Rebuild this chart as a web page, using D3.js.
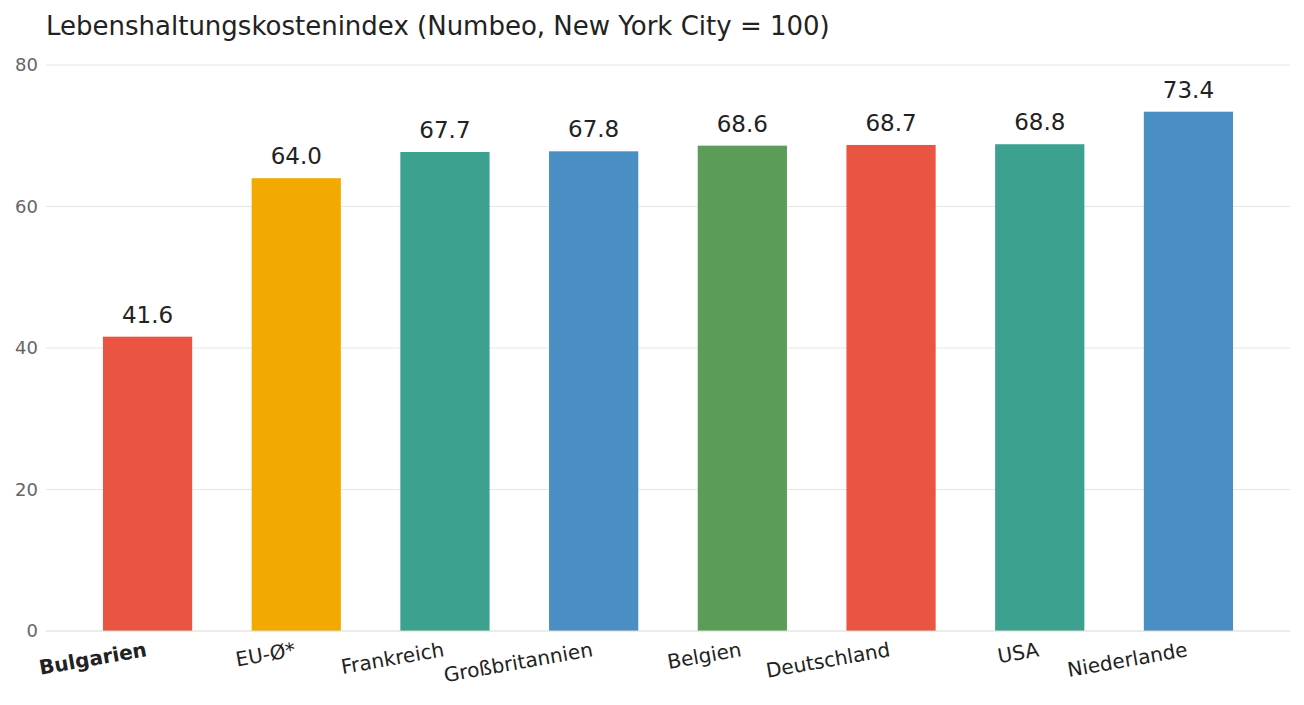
<!DOCTYPE html>
<html><head><meta charset="utf-8">
<script src="https://cdn.jsdelivr.net/npm/d3@7"></script>
<style>body{margin:0;background:#fff;font-family:"DejaVu Sans",sans-serif}</style>
</head><body><svg id="chart" width="1304" height="705"></svg>
<script>
const countries = ['Bulgarien','EU-Ø*','Frankreich','Großbritannien','Belgien','Deutschland','USA','Niederlande']
const values = [41.6, 64.0, 67.7, 67.8, 68.6, 68.7, 68.8, 73.4]
const barColors = ['#e95541','#f2aa00','#3ca18e','#4a8fc3','#5b9d58','#e95541','#3ca18e','#4a8fc3']
const yTicks = [0, 20, 40, 60, 80]

const svg = d3.select('#chart')
const x = d3.scaleBand().domain(countries).range([46, 1290]).paddingInner(0.4).paddingOuter(0.383)
const y = d3.scaleLinear().domain([0, 80]).range([631, 65])

svg.append('text').attr('x', 46).attr('y', 35).attr('font-size', 26).attr('fill', '#222')
    .text('Lebenshaltungskostenindex (Numbeo, New York City = 100)')

const grid = svg.append('g')
grid.selectAll('line').data(yTicks.slice(1)).enter().append('line')
    .attr('x1', 46).attr('x2', 1290).attr('y1', d => y(d)).attr('y2', d => y(d))
    .attr('stroke', '#e6e6e6')
grid.selectAll('text').data(yTicks).enter().append('text')
    .attr('x', 38).attr('y', d => y(d) + 6).attr('text-anchor', 'end')
    .attr('font-size', 18).attr('fill', '#666').text(d => d)

svg.selectAll('.bar').data(values).enter().append('rect')
    .attr('x', (d, i) => x(countries[i])).attr('width', x.bandwidth())
    .attr('y', d => y(d)).attr('height', d => y(0) - y(d))
    .attr('fill', (d, i) => barColors[i])

svg.selectAll('.val').data(values).enter().append('text')
    .attr('x', (d, i) => x(countries[i]) + x.bandwidth() / 2).attr('y', d => y(d) - 14)
    .attr('text-anchor', 'middle').attr('font-size', 23).attr('fill', '#222')
    .text(d => d.toFixed(1))

svg.append('line').attr('x1', 46).attr('x2', 1290).attr('y1', y(0)).attr('y2', y(0)).attr('stroke', '#d8d8d0')

svg.selectAll('.lab').data(countries).enter().append('text')
    .attr('transform', d => `translate(${x(d) + x.bandwidth() / 2},${y(0) + 25}) rotate(-10)`)
    .attr('text-anchor', 'end').attr('font-size', 20).attr('fill', '#222')
    .attr('font-weight', (d, i) => i === 0 ? 'bold' : 'normal')
    .text(d => d)
</script></body></html>
